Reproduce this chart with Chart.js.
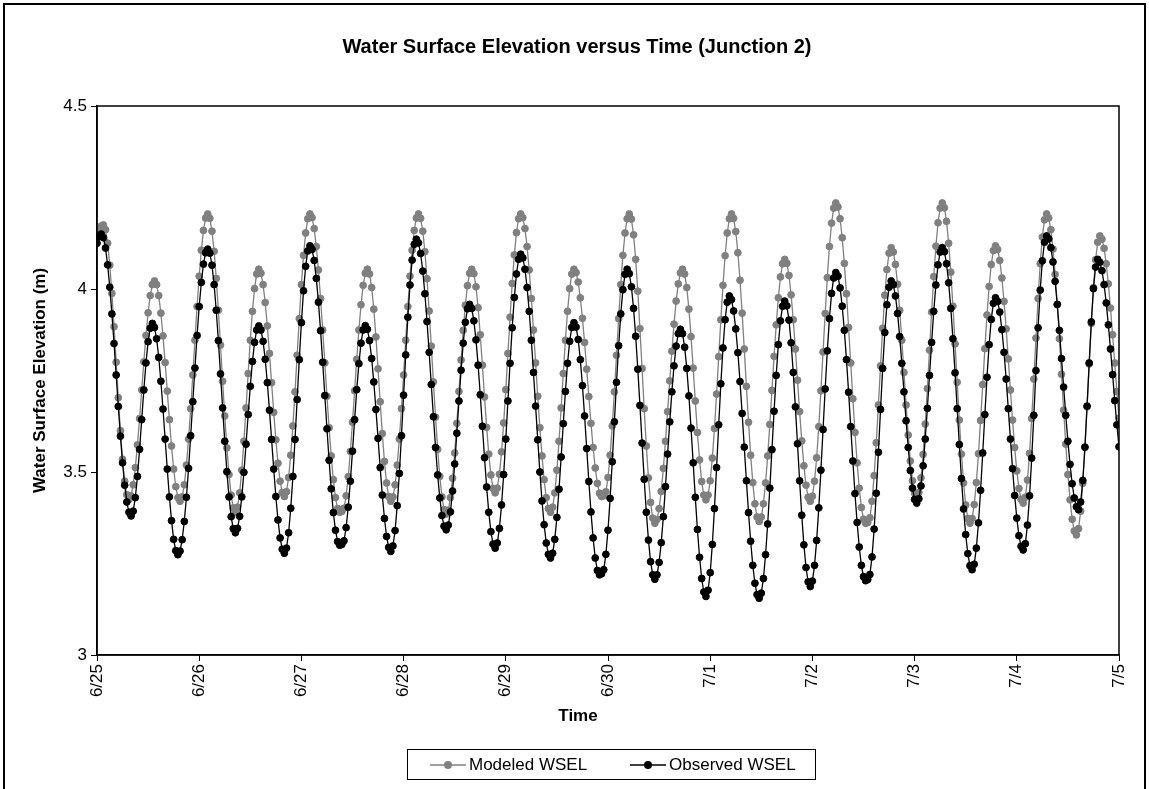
<!DOCTYPE html>
<html>
<head>
<meta charset="utf-8">
<title>Water Surface Elevation versus Time (Junction 2)</title>
<script src="https://cdn.jsdelivr.net/npm/chart.js@4.4.1/dist/chart.umd.min.js"></script>
<style>
    html, body { margin: 0; padding: 0; background: #fff; }
    #wrap { position: relative; width: 1149px; height: 789px; }
</style>
</head>
<body>
<div id="wrap"><canvas id="wselChart" width="1149" height="789"></canvas></div>
<script>
const chartTitle = 'Water Surface Elevation versus Time (Junction 2)';
const xTitle = 'Time';
const tickLabels = ['6/25', '6/26', '6/27', '6/28', '6/29', '6/30', '7/1', '7/2', '7/3', '7/4', '7/5'];
const hoursPerTick = 24;
const stepHours = 0.5; // half-hourly readings starting 6/25 00:00

const modeled = [
    4.150, 4.163, 4.172, 4.175, 4.162, 4.125, 4.065, 3.988, 3.897, 3.800,
    3.703, 3.613, 3.535, 3.475, 3.438, 3.425, 3.435, 3.465, 3.512, 3.574,
    3.646, 3.724, 3.801, 3.873, 3.935, 3.982, 4.012, 4.022, 4.012, 3.982,
    3.934, 3.872, 3.799, 3.721, 3.643, 3.571, 3.508, 3.460, 3.430, 3.420,
    3.432, 3.465, 3.519, 3.590, 3.673, 3.765, 3.860, 3.952, 4.035, 4.106,
    4.160, 4.194, 4.205, 4.193, 4.158, 4.103, 4.029, 3.942, 3.847, 3.748,
    3.653, 3.566, 3.493, 3.437, 3.402, 3.390, 3.404, 3.443, 3.505, 3.584,
    3.675, 3.769, 3.860, 3.939, 4.001, 4.041, 4.054, 4.043, 4.012, 3.963,
    3.899, 3.824, 3.744, 3.663, 3.588, 3.524, 3.475, 3.444, 3.433, 3.446,
    3.485, 3.546, 3.626, 3.719, 3.819, 3.919, 4.012, 4.092, 4.153, 4.192,
    4.205, 4.195, 4.165, 4.116, 4.052, 3.974, 3.888, 3.798, 3.707, 3.621,
    3.544, 3.479, 3.430, 3.400, 3.390, 3.392, 3.401, 3.435, 3.487, 3.556, 3.636,
    3.722, 3.808, 3.888, 3.957, 4.010, 4.043, 4.054, 4.041, 4.004, 3.945,
    3.869, 3.782, 3.692, 3.605, 3.529, 3.470, 3.433, 3.420, 3.432, 3.465,
    3.519, 3.590, 3.673, 3.765, 3.860, 3.952, 4.035, 4.106, 4.160, 4.194,
    4.205, 4.193, 4.158, 4.102, 4.028, 3.940, 3.844, 3.746, 3.650, 3.562,
    3.488, 3.432, 3.397, 3.385, 3.396, 3.430, 3.483, 3.552, 3.633, 3.720,
    3.806, 3.887, 3.956, 4.009, 4.043, 4.054, 4.042, 4.006, 3.949, 3.875,
    3.792, 3.705, 3.622, 3.549, 3.492, 3.455, 3.443, 3.456, 3.494, 3.555,
    3.634, 3.725, 3.824, 3.923, 4.015, 4.093, 4.154, 4.192, 4.205, 4.195,
    4.165, 4.116, 4.052, 3.974, 3.888, 3.798, 3.707, 3.621, 3.544, 3.479,
    3.430, 3.400, 3.390, 3.404, 3.443, 3.505, 3.584, 3.675, 3.769, 3.860,
    3.939, 4.001, 4.041, 4.054, 4.045, 4.019, 3.976, 3.920, 3.854, 3.781,
    3.706, 3.633, 3.567, 3.511, 3.469, 3.442, 3.433, 3.435, 3.446, 3.485, 3.546,
    3.626, 3.719, 3.819, 3.919, 4.012, 4.092, 4.153, 4.192, 4.205, 4.191,
    4.148, 4.081, 3.994, 3.892, 3.783, 3.673, 3.571, 3.484, 3.417, 3.374,
    3.360, 3.370, 3.400, 3.447, 3.510, 3.584, 3.665, 3.749, 3.830, 3.904,
    3.967, 4.014, 4.044, 4.054, 4.041, 4.004, 3.945, 3.870, 3.784, 3.694,
    3.608, 3.533, 3.474, 3.437, 3.424, 3.437, 3.476, 3.538, 3.619, 3.713,
    3.815, 3.916, 4.010, 4.091, 4.153, 4.192, 4.205, 4.193, 4.157, 4.099,
    4.024, 3.934, 3.836, 3.734, 3.636, 3.546, 3.471, 3.413, 3.377, 3.365,
    3.377, 3.413, 3.470, 3.544, 3.630, 3.723, 3.816, 3.902, 3.976, 4.033,
    4.069, 4.081, 4.070, 4.037, 3.984, 3.916, 3.836, 3.751, 3.665, 3.585,
    3.517, 3.464, 3.431, 3.420, 3.434, 3.475, 3.539, 3.624, 3.722, 3.828,
    3.933, 4.031, 4.116, 4.180, 4.221, 4.235, 4.224, 4.192, 4.140, 4.070,
    3.987, 3.895, 3.798, 3.700, 3.608, 3.525, 3.456, 3.403, 3.371, 3.360, 3.362,
    3.375, 3.420, 3.490, 3.580, 3.683, 3.790, 3.893, 3.983, 4.053, 4.098,
    4.113, 4.101, 4.067, 4.013, 3.942, 3.860, 3.772, 3.683, 3.601, 3.530,
    3.476, 3.442, 3.430, 3.444, 3.484, 3.548, 3.631, 3.728, 3.833, 3.937,
    4.034, 4.117, 4.181, 4.221, 4.235, 4.222, 4.185, 4.125, 4.046, 3.953,
    3.850, 3.745, 3.642, 3.549, 3.470, 3.410, 3.373, 3.360, 3.373, 3.411,
    3.471, 3.550, 3.641, 3.739, 3.837, 3.929, 4.007, 4.067, 4.105, 4.118,
    4.108, 4.078, 4.030, 3.966, 3.891, 3.809, 3.724, 3.642, 3.567, 3.503,
    3.455, 3.425, 3.415, 3.431, 3.478, 3.551, 3.646, 3.754, 3.866, 3.974,
    4.069, 4.142, 4.189, 4.205, 4.194, 4.162, 4.109, 4.040, 3.957, 3.864,
    3.767, 3.669, 3.576, 3.493, 3.424, 3.371, 3.339, 3.328, 3.345, 3.393,
    3.469, 3.567, 3.678, 3.795, 3.906, 4.004, 4.080, 4.128, 4.145, 4.136,
    4.111, 4.069, 4.014, 3.948, 3.875, 3.798, 3.720, 3.647
];

const observed = [
    4.125, 4.143, 4.150, 4.140, 4.112, 4.066, 4.005, 3.932, 3.851, 3.765,
    3.679, 3.598, 3.525, 3.464, 3.418, 3.390, 3.380, 3.393, 3.430, 3.488,
    3.562, 3.643, 3.724, 3.798, 3.856, 3.893, 3.906, 3.895, 3.864, 3.813,
    3.748, 3.672, 3.590, 3.508, 3.432, 3.367, 3.316, 3.285, 3.274, 3.284,
    3.315, 3.365, 3.431, 3.510, 3.599, 3.692, 3.784, 3.873, 3.952, 4.018,
    4.068, 4.099, 4.109, 4.098, 4.065, 4.012, 3.942, 3.859, 3.768, 3.675,
    3.584, 3.501, 3.432, 3.378, 3.345, 3.334, 3.346, 3.379, 3.432, 3.499,
    3.576, 3.657, 3.734, 3.802, 3.854, 3.888, 3.899, 3.888, 3.857, 3.808,
    3.744, 3.669, 3.589, 3.508, 3.433, 3.369, 3.320, 3.289, 3.278, 3.292,
    3.334, 3.401, 3.488, 3.589, 3.698, 3.807, 3.908, 3.995, 4.062, 4.104,
    4.118, 4.108, 4.078, 4.029, 3.964, 3.886, 3.800, 3.709, 3.618, 3.532,
    3.454, 3.389, 3.341, 3.310, 3.300, 3.302, 3.312, 3.348, 3.404, 3.475, 3.557,
    3.643, 3.725, 3.796, 3.852, 3.888, 3.900, 3.890, 3.859, 3.810, 3.746,
    3.671, 3.592, 3.512, 3.437, 3.373, 3.324, 3.294, 3.283, 3.298, 3.340,
    3.408, 3.496, 3.599, 3.710, 3.820, 3.923, 4.011, 4.079, 4.122, 4.136,
    4.126, 4.097, 4.049, 3.987, 3.911, 3.827, 3.739, 3.651, 3.567, 3.492,
    3.429, 3.381, 3.352, 3.342, 3.355, 3.391, 3.448, 3.522, 3.606, 3.694,
    3.778, 3.852, 3.909, 3.946, 3.958, 3.947, 3.913, 3.861, 3.792, 3.711,
    3.625, 3.539, 3.459, 3.390, 3.337, 3.303, 3.292, 3.306, 3.346, 3.410,
    3.493, 3.590, 3.694, 3.797, 3.894, 3.977, 4.041, 4.081, 4.095, 4.085,
    4.054, 4.004, 3.939, 3.860, 3.772, 3.680, 3.588, 3.500, 3.421, 3.356,
    3.306, 3.275, 3.265, 3.278, 3.316, 3.376, 3.453, 3.541, 3.632, 3.720,
    3.797, 3.857, 3.895, 3.908, 3.896, 3.862, 3.807, 3.736, 3.653, 3.564,
    3.474, 3.391, 3.320, 3.265, 3.231, 3.219, 3.222, 3.233, 3.275, 3.341, 3.428,
    3.528, 3.637, 3.745, 3.845, 3.932, 3.998, 4.040, 4.054, 4.042, 4.006,
    3.947, 3.871, 3.781, 3.682, 3.579, 3.480, 3.390, 3.314, 3.255, 3.219,
    3.207, 3.219, 3.253, 3.307, 3.378, 3.460, 3.549, 3.637, 3.719, 3.790,
    3.844, 3.878, 3.890, 3.878, 3.841, 3.783, 3.708, 3.620, 3.525, 3.431,
    3.343, 3.267, 3.209, 3.172, 3.160, 3.177, 3.225, 3.302, 3.400, 3.512,
    3.629, 3.741, 3.839, 3.916, 3.964, 3.981, 3.971, 3.940, 3.891, 3.826,
    3.747, 3.660, 3.568, 3.476, 3.389, 3.311, 3.245, 3.196, 3.165, 3.155,
    3.169, 3.209, 3.274, 3.358, 3.456, 3.561, 3.666, 3.764, 3.848, 3.913,
    3.953, 3.967, 3.954, 3.915, 3.853, 3.772, 3.678, 3.577, 3.476, 3.382,
    3.301, 3.239, 3.200, 3.187, 3.202, 3.245, 3.313, 3.402, 3.505, 3.616,
    3.727, 3.831, 3.919, 3.988, 4.030, 4.045, 4.035, 4.003, 3.953, 3.887,
    3.807, 3.718, 3.624, 3.530, 3.441, 3.362, 3.295, 3.245, 3.214, 3.203, 3.206,
    3.220, 3.268, 3.344, 3.442, 3.554, 3.671, 3.783, 3.881, 3.957, 4.005,
    4.022, 4.012, 3.981, 3.933, 3.870, 3.797, 3.719, 3.640, 3.567, 3.504,
    3.456, 3.425, 3.415, 3.427, 3.462, 3.517, 3.590, 3.674, 3.764, 3.854,
    3.939, 4.011, 4.066, 4.101, 4.113, 4.102, 4.069, 4.017, 3.947, 3.864,
    3.771, 3.673, 3.575, 3.482, 3.399, 3.329, 3.277, 3.244, 3.233, 3.248,
    3.292, 3.361, 3.450, 3.552, 3.657, 3.759, 3.848, 3.917, 3.961, 3.976,
    3.966, 3.937, 3.889, 3.827, 3.754, 3.673, 3.590, 3.509, 3.436, 3.374,
    3.326, 3.297, 3.287, 3.304, 3.355, 3.435, 3.538, 3.655, 3.777, 3.894,
    3.997, 4.077, 4.128, 4.145, 4.137, 4.113, 4.074, 4.021, 3.958, 3.887,
    3.810, 3.732, 3.655, 3.584, 3.521, 3.468, 3.429, 3.405, 3.397, 3.418,
    3.477, 3.568, 3.680, 3.798, 3.910, 4.001, 4.060, 4.081, 4.073, 4.050,
    4.012, 3.962, 3.902, 3.836, 3.766, 3.695, 3.629, 3.569
];

const FONT = '"Liberation Sans", Arial, Helvetica, sans-serif';
const GREY = '#808080';
const BLACK = '#000000';

function toPoints(values) {
    return values.map((v, i) => ({ x: i * stepHours, y: v }));
}

// outer frame, plot box, titles and boxed legend
const framePlugin = {
    id: 'frame',
    afterDraw(chart) {
        const ctx = chart.ctx;
        const area = chart.chartArea;
        ctx.save();

        ctx.strokeStyle = BLACK;
        ctx.lineWidth = 2;
        ctx.strokeRect(4, 4, 1141, 900);

        ctx.lineWidth = 1.5;
        ctx.strokeRect(area.left, area.top, area.right - area.left, area.bottom - area.top);

        ctx.fillStyle = BLACK;
        ctx.textAlign = 'center';
        ctx.textBaseline = 'middle';
        ctx.font = 'bold 20px ' + FONT;
        ctx.fillText(chartTitle, 577, 47);
        ctx.font = 'bold 17px ' + FONT;
        ctx.fillText(xTitle, 578, 716);

        // legend box
        ctx.lineWidth = 1;
        ctx.strokeRect(407.5, 749.5, 408, 30);
        ctx.font = '17px ' + FONT;
        ctx.textAlign = 'left';
        const rowY = 765;
        chart.data.datasets.forEach((ds, i) => {
            const x0 = i === 0 ? 430 : 630;
            ctx.strokeStyle = ds.borderColor;
            ctx.lineWidth = 1.3;
            ctx.beginPath();
            ctx.moveTo(x0, rowY);
            ctx.lineTo(x0 + 36, rowY);
            ctx.stroke();
            ctx.fillStyle = ds.backgroundColor;
            ctx.beginPath();
            ctx.arc(x0 + 18, rowY, 4, 0, Math.PI * 2);
            ctx.fill();
            ctx.fillStyle = BLACK;
            ctx.fillText(ds.label, x0 + 39, rowY);
        });
        ctx.restore();
    }
};

new Chart(document.getElementById('wselChart'), {
    type: 'line',
    data: {
        datasets: [
            {
                label: 'Modeled WSEL',
                data: toPoints(modeled),
                borderColor: GREY,
                backgroundColor: GREY,
                borderWidth: 1.3,
                pointRadius: 3.4,
                pointBorderWidth: 1,
                pointBorderColor: GREY,
                pointBackgroundColor: GREY,
                tension: 0,
                order: 1
            },
            {
                label: 'Observed WSEL',
                data: toPoints(observed),
                borderColor: BLACK,
                backgroundColor: BLACK,
                borderWidth: 1.3,
                pointRadius: 3.4,
                pointBorderWidth: 1,
                pointBorderColor: BLACK,
                pointBackgroundColor: BLACK,
                tension: 0,
                order: 0
            }
        ]
    },
    options: {
        responsive: false,
        animation: false,
        layout: { padding: { top: 106, right: 30, left: 0, bottom: 0 } },
        plugins: {
            legend: { display: false },
            title: { display: false },
            tooltip: { enabled: false }
        },
        scales: {
            x: {
                type: 'linear',
                min: 0,
                max: hoursPerTick * (tickLabels.length - 1),
                afterFit(scale) { scale.height = 134; },
                afterBuildTicks(scale) {
                    scale.ticks = tickLabels.map((_, i) => ({ value: i * hoursPerTick }));
                },
                ticks: {
                    autoSkip: false,
                    minRotation: 90,
                    maxRotation: 90,
                    padding: 3,
                    color: BLACK,
                    font: { family: FONT, size: 17 },
                    callback: v => tickLabels[Math.round(v / hoursPerTick)]
                },
                grid: { drawOnChartArea: false, drawTicks: true, tickLength: 6, color: BLACK },
                border: { display: true, color: BLACK, width: 1.5 }
            },
            y: {
                min: 3,
                max: 4.5,
                afterFit(scale) { scale.width = 97; },
                ticks: {
                    stepSize: 0.5,
                    padding: 4,
                    color: BLACK,
                    font: { family: FONT, size: 17 },
                    callback: v => String(Number(v.toFixed(1)))
                },
                grid: { drawOnChartArea: false, drawTicks: true, tickLength: 6, color: BLACK },
                border: { display: true, color: BLACK, width: 1.5 },
                title: {
                    display: true,
                    text: 'Water Surface Elevation (m)',
                    color: BLACK,
                    font: { family: FONT, size: 17, weight: 'bold' },
                    padding: { top: 30, bottom: 0 }
                }
            }
        }
    },
    plugins: [framePlugin]
});
</script>
</body>
</html>
